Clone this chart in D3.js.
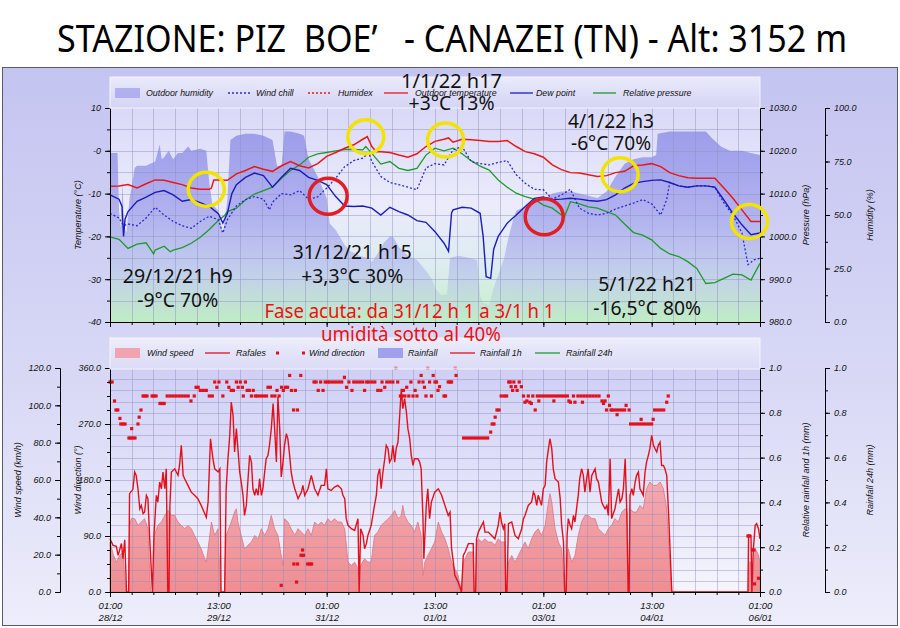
<!DOCTYPE html>
<html><head><meta charset="utf-8">
<script src="https://cdn.jsdelivr.net/npm/d3@7"></script>
<style>body{margin:0;background:#fff}svg{display:block}</style>
</head><body><svg id="c" width="900" height="628"></svg>
<script>
// ---- DATA (hours since 01:00 28/12) ----
const xTickHours = [0,36,72,108,144,180,216];
const xTickTimes = ["01:00","13:00","01:00","13:00","01:00","13:00","01:00"];
const xTickDates = ["28/12","29/12","31/12","01/01","03/01","04/01","06/01"];
const tempTicks = [10,0,-10,-20,-30,-40];
const pressTicks = [1030,1020,1010,1000,990,980];
const humTicks = [100,75,50,25,0];
const windTicks = [120,100,80,60,40,20,0];
const dirTicks = [360,270,180,90,0];
const rainTicks = [1,0.8,0.6,0.4,0.2,0];

const tempData = [[0,-8.3],[3,-8.2],[6,-7.9],[9,-8.7],[12,-7.7],[15,-6.8],[18,-6.9],[21,-7.4],[24,-7.9],[27,-8.7],[30,-9.0],[33,-9.0],[33.7,-8.7],[34.5,-6.8],[36,-6.8],[39,-6.9],[42,-5.4],[45,-4.6],[48,-3.7],[51,-4.3],[54,-4.8],[57,-3.5],[60,-2.5],[63,-3.5],[66,-4.0],[69,-3.0],[72,-1.3],[75,-0.4],[78,0.6],[81,1.4],[84,2.7],[85.5,3.3],[87,1.0],[88.5,-0.2],[90,-0.2],[93,-0.4],[96,-1.0],[99,-1.5],[102,-0.7],[105,1.0],[108,2.2],[111,2.7],[112.5,3.0],[114,2.0],[117,2.7],[120,2.6],[123,2.4],[126,2.2],[129,2.2],[132,2.4],[135,1.0],[138,-0.2],[141,-0.7],[144,-1.5],[147,-3.3],[150,-4.4],[153,-5.1],[156,-5.2],[159,-5.6],[162,-6.0],[165,-5.8],[168,-5.1],[171,-4.8],[174,-3.5],[177,-3.3],[180,-3.0],[183,-3.7],[186,-5.1],[189,-5.8],[192,-6.3],[195,-6.4],[198,-6.4],[201,-6.4],[204,-8.7],[207,-11.1],[210,-13.8],[213,-16.5],[216,-16.5]];
const dewData = [[0,-10.3],[3,-11.3],[4,-13],[4.5,-20],[5,-16],[6,-14.2],[9,-11.8],[12,-10.8],[15,-9.7],[18,-9.3],[21,-10.3],[24,-11.8],[27,-11.4],[30,-12.1],[33,-13.0],[36,-14.7],[37.5,-16.9],[39,-14.6],[40.5,-10],[42,-7.9],[45,-6.2],[48,-5.2],[51,-5.8],[54,-8.5],[57,-6.2],[60,-4.1],[63,-4.6],[66,-6.2],[69,-6.9],[72,-7.9],[75,-10.7],[78,-12.9],[81,-13.0],[84,-12.9],[87,-13.4],[90,-15.0],[93,-13.2],[96,-14.2],[99,-15.0],[102,-16.3],[105,-16.7],[108,-18.9],[111,-21.6],[112.5,-23.5],[113.5,-14.5],[114,-13.8],[117,-13.2],[120,-13.4],[123,-14.6],[124,-20],[125,-29.4],[126.5,-29.8],[127.5,-23],[129,-20.0],[132,-16.9],[135,-15.0],[138,-13.0],[141,-11.1],[144,-10.8],[147,-11.4],[150,-11.3],[153,-11.1],[156,-11.3],[159,-11.6],[162,-11.8],[165,-11.4],[168,-10.3],[171,-8.7],[174,-7.6],[177,-7.2],[180,-6.9],[183,-6.8],[186,-7.4],[189,-8.2],[192,-8.5],[195,-8.2],[198,-8.2],[201,-8.5],[204,-11.5],[207,-14.6],[210,-17.3],[213,-19.6],[216,-19.2]];
const windChillData = [[0,-14.6],[3,-15.7],[4.5,-17.5],[6,-17.1],[9,-17.5],[12,-15.7],[15,-13.2],[18,-15.0],[21,-16.5],[24,-17.5],[27,-18.1],[30,-16.5],[33,-15.3],[36,-16.1],[37.5,-19.2],[39,-16.1],[42,-12.9],[45,-11.4],[48,-10.7],[51,-11.3],[53,-13.8],[54,-12],[57,-10.0],[60,-10.3],[63,-9.3],[66,-11.3],[69,-10.8],[72,-8.7],[75,-6.4],[78,-3.7],[81,-2.3],[84,-1.7],[86,-0.5],[87,-2.5],[90,-6.0],[93,-7.4],[96,-7.9],[99,-8.5],[102,-9.1],[105,-4.0],[108,-3.0],[111,-3.3],[114,0.2],[117,1.0],[120,-2.5],[123,-3.0],[126,-3.3],[129,-2.7],[132,-2.3],[135,-5.6],[138,-7.6],[141,-9.0],[144,-9.1],[147,-11.3],[150,-10.3],[153,-9.0],[156,-13.4],[159,-14.6],[162,-15.0],[165,-14.6],[168,-13.6],[171,-12.9],[174,-12.2],[177,-11.4],[180,-12.4],[183,-15.0],[185,-11.4],[186,-7.4],[189,-8.2],[192,-8.5],[195,-8.2],[198,-8.2],[201,-8.5],[204,-12.2],[207,-15.0],[210,-19.2],[212,-26.6],[214,-25.5],[216,-25.1]];
const pressureData = [[0,999.9],[3,999.3],[6,997.2],[9,998.2],[12,998.5],[14.5,995.9],[15,996.8],[18,997.7],[20,996.4],[21,996.8],[24,997.4],[27,998.4],[30,999.8],[33,1001.6],[36,1003.7],[38,1004.8],[39,1005.8],[42,1006.6],[45,1008.5],[48,1009.9],[51,1010.7],[54,1011.5],[57,1013.6],[60,1015.4],[63,1016.7],[66,1018.5],[69,1019.3],[72,1019.6],[75,1020.0],[78,1020.3],[81,1020.3],[84,1020.2],[85,1021.0],[87,1019.4],[90,1016.9],[93,1017.5],[96,1015.9],[99,1015.4],[102,1015.9],[105,1019.0],[108,1020.6],[111,1020.0],[114,1020.6],[117,1019.3],[120,1017.7],[123,1016.4],[126,1015.5],[129,1013.2],[132,1011.5],[135,1010.1],[138,1009.3],[141,1008.7],[144,1007.3],[147,1006.6],[150,1005.0],[151,1004.6],[153,1008.1],[156,1007.6],[159,1006.9],[162,1006.6],[165,1005.8],[168,1005.0],[171,1002.9],[174,1000.9],[177,1000.3],[180,999.2],[183,997.2],[186,995.9],[189,995.3],[192,994.1],[195,992.5],[198,989.0],[201,989.2],[204,990.2],[207,991.2],[210,991.0],[213,989.8],[216,993.7]];
const humidityData = [[0,79],[2.5,79],[3,52],[3.6,44],[4.2,66],[4.6,44],[5.5,42],[6.5,58],[7.2,63],[8.2,72],[9,73],[12,73],[15,75],[16,80],[16.5,83],[17.2,76],[18,77],[19.5,80],[21,76],[22.5,79],[24,79],[26,82],[27,80],[30,81],[32,80],[33,65],[34,55],[36,52],[37.5,41],[39,57],[40,85],[42,87],[45,88],[48,88],[51,87],[54,85],[55.5,73],[57,73],[58,89],[60,89],[63,88],[64.5,87],[66,76],[69,68],[72,58],[73,46],[75,43],[78,36],[80,33],[83,31],[85.5,30],[87,28],[89,32],[91,37],[93,40],[94,40],[96,35],[99,31],[102,29],[105,24],[107,20],[108,16],[110,12.5],[112,13],[113,30],[116,31],[119,30],[122,29],[123,12],[124,9],[126,8],[127.5,16],[129,22],[131,30],[132.5,40],[134,48],[135,52],[138,54],[141,56],[144,57],[147,60],[150,61],[153,61],[156,60],[159,59],[162,58],[165,61],[168,68],[171,74],[174,76],[177,77],[180,77],[181.5,78],[182,88],[186,89],[190,89],[194,89],[198,89],[200,86],[203,82],[206,80],[210,80],[213,79],[216,78]];

const gustData = [[0,28.5],[1,25],[2.1,24.5],[2.7,19.6],[3.8,26],[4.3,17.8],[4.9,28],[5.5,0],[6.2,0],[6.5,52.7],[7.6,55],[8.2,64.3],[8.7,62.5],[9.3,55.3],[9.9,44.6],[10.4,46.4],[11,42],[11.5,42.8],[12.1,51.8],[12.6,50],[13.2,28.5],[14.1,0],[14.6,30],[15.4,51.8],[15.9,48.2],[16.5,58.9],[17.1,55.3],[17.6,64.3],[18.2,55.3],[18.7,66],[19.2,0],[19.6,0],[19.9,46],[20.4,64.3],[21.5,66],[22.6,62.5],[23.1,67.8],[23.7,78.6],[24.3,62.5],[24.8,60.7],[25.9,57.1],[27,53.5],[28.1,51.8],[29.2,50],[30.3,46.4],[31.5,41.9],[32,40],[32.6,48.2],[33.1,69.6],[33.4,82.1],[34.2,71.4],[34.8,66],[35.9,64.3],[36.5,66],[36.9,0],[38.1,0],[38.6,55.3],[39.2,71.4],[39.8,84],[40.3,101.8],[40.9,94.6],[41.4,75],[42,87.5],[42.5,76.8],[43.1,64.3],[43.6,58.9],[44.2,51.8],[44.7,41],[45.3,46.4],[45.8,58.9],[46.4,73.2],[47,69.6],[47.5,55.3],[48.1,51.8],[48.6,55.3],[49.2,51.8],[49.7,60.7],[50.3,51.8],[50.8,55.3],[51.4,64.3],[51.9,71.4],[52.5,73.2],[53,78.6],[53.6,87.5],[54.2,100.9],[54.7,87.5],[55.3,69.6],[55.8,104.4],[56.4,87.5],[56.9,61.6],[57.5,69.6],[58,78.6],[58.6,84.8],[59.1,82.1],[59.7,73.2],[60.2,64.3],[60.8,58.9],[61.4,55.3],[62.5,50],[63.6,53.5],[64.1,57.1],[64.7,51.8],[65.8,55.3],[66.9,62.5],[68,55.3],[69.1,51.8],[70.2,57.1],[71.3,57.1],[71.9,66],[72.4,55.3],[73.5,54.4],[74.6,56.2],[75.7,57.1],[76.9,55.3],[77.4,51.8],[78,50],[78.5,39.3],[79.1,35.7],[80.2,33.9],[81.3,33],[82.4,39.3],[82.8,0],[83.3,33.9],[84.1,30.3],[84.6,23.2],[85.2,25.9],[85.7,30.3],[86.8,35.7],[87.9,46.4],[88.5,51.8],[89,62.5],[89.6,66],[90.1,55.3],[90.7,64.3],[91.3,71.4],[91.8,78.6],[92.4,76.8],[92.9,69.6],[93.5,71.4],[94,78.6],[94.6,69.6],[95.1,76.8],[95.7,80.3],[96.2,92.8],[96.8,108.9],[97.3,98.2],[97.9,103.6],[98.5,96.4],[99,87.5],[99.6,82.1],[100.1,73.2],[100.7,67.8],[101.2,71.4],[102.3,71.4],[102.9,69.6],[103.4,66],[104,39.3],[104.3,17.8],[105.1,46.4],[105.6,55.3],[106.2,39.3],[106.8,48.2],[107.9,53.5],[109.1,55.3],[110.2,51.8],[111.3,46.4],[112.4,41],[113,42.8],[113.5,23.2],[114.1,16],[114.6,8.9],[115.7,5.3],[116.8,0],[117.4,19.6],[118,21.4],[119.1,25.9],[120.7,25.9],[121,0],[121.5,0],[121.8,28.5],[122.4,32.1],[123.5,35.7],[124.1,37.5],[124.6,32.1],[125.7,32.1],[126.8,30.3],[127.9,28.5],[129,35.7],[129.6,42.8],[130.1,37.5],[130.7,33.9],[131.2,36.6],[131.5,0],[131.9,0],[132.4,36.6],[133.5,37.5],[134.6,30.3],[135.7,28.5],[136.8,33.9],[137.4,39.3],[137.9,41],[139,46.4],[140.1,48.2],[140.7,53.5],[141.2,51.8],[141.8,46.4],[142.3,51.8],[143.4,46.4],[144,55.3],[144.6,57.1],[145.1,69.6],[145.7,76.8],[146.2,82.1],[146.8,76.8],[147.3,66],[147.9,60.7],[149,58.9],[149.6,50],[150.1,35.7],[150.7,26.8],[151.1,0],[151.6,0],[151.9,30.3],[152.3,39.3],[152.9,35.7],[153.4,33.9],[154,41],[154.5,37.5],[155.6,51.8],[156.1,60.7],[156.7,66],[157.3,62.5],[157.8,53.5],[158.4,60.7],[158.9,66],[159.5,53.5],[160.1,62.5],[161.2,66],[161.7,60.7],[162.3,58.9],[163.4,48.2],[163.9,46.4],[164.5,44.6],[165.1,46.4],[165.6,41],[166.2,71.4],[166.7,39.3],[167.8,44.6],[168.4,50],[169,55.3],[169.5,48.2],[170.1,50],[170.6,55.3],[171.2,71.4],[171.7,44.6],[172.2,0],[172.5,0],[172.8,51.8],[173.4,55.3],[173.9,51.8],[174.5,58.9],[175,62.5],[175.6,64.3],[176.1,55.3],[176.7,53.5],[177.2,51.8],[177.8,64.3],[178.3,69.6],[178.9,73.2],[179.4,76.8],[180,83.9],[180.6,78.6],[181.1,76.8],[181.7,75],[182.2,78.6],[182.8,80.3],[183.3,67.8],[183.9,67.8],[184.4,66],[185,62.5],[185.6,42.8],[186.1,23.2],[186.7,0],[212,0],[212.2,30.3],[213,30.3],[213.3,0],[213.8,23.2],[214.4,35.7],[214.9,36.6],[215.5,33.9],[216,28.5]];
const windSpeedData = [[0,26.8],[1,20.5],[2.1,16],[3.2,19.6],[4.3,21.4],[5.3,0],[6.2,0],[6.5,35.7],[7.1,39.3],[8.2,39.3],[9.3,35.7],[10.4,37.5],[11.5,39.3],[12.6,33.9],[13.5,0],[14.5,0],[14.8,30.3],[15.9,35.7],[17.1,37.5],[18.2,41],[19.3,43.7],[20.4,41],[21.5,41],[22.6,37.5],[23.7,35.7],[24.8,33.9],[25.9,35.7],[27,33.9],[28.1,30.3],[29.2,26.8],[30.3,23.2],[31.5,17.8],[32,16],[32.6,23.2],[33.7,37.5],[34.8,30.3],[35.9,33.9],[36.8,0],[38,0],[38.6,30.3],[40.3,37.5],[41.4,42.8],[42,44.6],[42.5,37.5],[43.6,30.3],[44.7,23.2],[45.8,25],[47,26.8],[48.1,30.3],[49.2,28.5],[50.3,33.9],[51.4,30.3],[52.5,33.9],[53.6,41],[54.7,33.9],[55.8,30.3],[56.9,19.6],[57.5,14.3],[58,39.3],[59.1,37.5],[60.2,33.9],[61.4,30.3],[62.5,33.9],[63.6,32.1],[64.7,30.3],[65.8,33.9],[66.9,30.3],[68,37.5],[69.1,35.7],[70.2,37.5],[71.3,35.7],[72.4,39.3],[73.5,37.5],[74.6,39.3],[75.7,37.5],[76.9,37.5],[78,33.9],[79.1,16],[80.2,14.3],[81.3,16],[82.4,12.5],[82.8,0],[83.3,14.3],[84.6,17.8],[85.7,16],[86.8,16],[87.9,30.3],[89,32.1],[90.1,35.7],[91.3,37.5],[92.4,39.3],[93.5,41],[94.6,43.7],[95.7,39.3],[96.8,41],[97.3,46.4],[97.9,41],[99,37.5],[100.1,35.7],[101.2,32.1],[102.3,37.5],[103.4,30.3],[104,8.9],[104.6,16],[105.6,19.6],[106.8,23.2],[107.9,26.8],[109.1,37.5],[110.2,32.1],[111.3,28.5],[112.4,23.2],[113.5,16],[114.6,12.5],[115.7,8.9],[116.8,0],[117.4,16],[118,17.8],[119.1,21.4],[120.7,21.4],[121,0],[121.5,0],[121.8,26.8],[122.4,28.5],[123.5,26.8],[124.6,28.5],[125.7,26.8],[126.8,26.8],[127.9,25],[129,28.5],[130.1,26.8],[131.2,26.8],[131.5,0],[131.9,0],[132.4,16],[133.5,19.6],[134.6,16],[135.7,19.6],[136.8,23.2],[137.9,26.8],[139,23.2],[140.1,28.5],[141.2,32.1],[142.3,33.9],[143.4,30.3],[144.6,35.7],[145.7,48.2],[146.2,52.7],[146.8,48.2],[147.9,33.9],[149,26.8],[150.1,23.2],[151.1,0],[151.6,0],[151.9,19.6],[152.3,23.2],[153.4,16],[154.5,19.6],[155.6,30.3],[156.7,37.5],[157.8,41],[158.9,41],[160.1,39.3],[161.2,39.3],[162.3,33.9],[163.4,32.1],[164.5,30.3],[165.6,33.9],[166.7,35.7],[167.8,39.3],[168.9,37.5],[170.1,42.8],[171.2,44.6],[171.9,42.8],[172.2,0],[172.5,0],[172.8,44.6],[173.9,42.8],[175,42.8],[176.1,46.4],[177.2,44.6],[178.3,55.3],[179.4,58.9],[180.6,57.1],[181.7,57.1],[182.8,58.9],[183.9,55.3],[185,44.6],[185.6,26.8],[186.7,0],[212,0],[212.2,16],[213,16],[213.3,0],[214.4,23.2],[215.5,20],[216,16]];
const windDirData = [[0,337.5],[0.7,337.5],[1.5,307],[2,292.5],[2.6,292.5],[3.3,279],[3.6,270],[4.3,270],[5,270],[6.3,247.5],[6.9,247.5],[7.2,262.5],[7.6,247.5],[8.3,247.5],[9.3,270],[9.7,281],[10.3,292.5],[11,315],[11.6,315],[12.3,315],[14,315],[14.6,315],[15.3,315],[16.6,303],[17.3,303],[18,303],[19,315],[20,315],[21,315],[22,315],[23,315],[24,315],[25,315],[26,315],[26.9,307],[28,315],[28.6,329],[29.3,329],[30,324],[31,324],[32,324],[33,315],[34,315],[34.8,337.5],[35.5,329],[36.2,337.5],[37.5,315],[38.8,337.5],[39.5,329],[40.3,324],[41,324],[42,337.5],[42.6,329],[43.3,337.5],[44,329],[44.3,315],[45,337.5],[45.6,324],[46.3,324],[47,315],[47.6,324],[48.3,315],[49,315],[50,315],[51,315],[52,315],[52.5,329],[53.3,329],[53.8,315],[54.8,315],[55.5,324],[56.2,315],[57,329],[57.6,324],[58.3,329],[59,329],[59.7,348],[60.3,324],[61,292.5],[61.6,324],[62.3,292.5],[63.4,348],[56.9,10.7],[61.1,45],[62,16],[62.3,45],[63.5,59],[64,67.5],[64.3,59],[65.7,45],[66.4,45],[67,45],[67.8,337.5],[68.5,337.5],[69.2,324],[70,337.5],[70.8,324],[71.5,337.5],[72.3,337.5],[73,337.5],[74,337.5],[75,337.5],[76,337.5],[77,337.5],[77.9,345],[78.6,329],[79.4,337.5],[80.4,324],[81,337.5],[82,337.5],[83,337.5],[84,337.5],[84.6,324],[85.3,337.5],[86,337.5],[87,337.5],[88,337.5],[89,324],[90,324],[90.4,337.5],[91.3,329],[92,337.5],[93,337.5],[94,337.5],[95,360],[95.6,337.5],[96.5,315],[97.1,315],[97.5,324],[98,315],[98.6,329],[99.3,315],[100,337.5],[100.7,315],[101.4,324],[102,315],[102.7,337.5],[103.4,348],[104,337.5],[104.5,329],[105,315],[105.6,360],[106.2,337.5],[106.8,315],[107.4,348],[108,337.5],[108.5,337.5],[109,324],[109.5,330],[111,315],[111.5,315],[112.4,337.5],[113,337.5],[113.5,337.5],[114.7,360],[115,348],[117.5,247.5],[118.5,247.5],[119.5,247.5],[120.5,247.5],[121.5,247.5],[122.5,247.5],[123.5,247.5],[124.5,247.5],[125.5,247.5],[126.5,257],[127,270],[127.6,270],[128,281],[128.6,292.5],[129.3,292.5],[130,315],[131,315],[131.8,315],[132.5,337.5],[133,337.5],[133.3,330],[133.8,324],[134.2,337.5],[134.8,330],[135.3,324],[136,337.5],[136.7,330],[137.4,315],[137.9,305],[138.5,307],[139,315],[139.5,305],[140,303],[140.5,315],[141.3,292.5],[142,315],[142.5,307],[143,315],[144,315],[145,315],[146,315],[147,315],[147.5,307],[148,315],[149,315],[150,315],[151,315],[152,315],[152.5,307],[153,305],[154,315],[154.5,305],[155.5,315],[156.5,315],[157,305],[157.5,315],[158.5,315],[159.5,315],[160.5,315],[161.5,315],[162.5,315],[163.5,307],[164,303],[164.5,307],[165,292.5],[165.6,315],[166,300],[166.5,292.5],[167,292.5],[168,292.5],[168.5,285],[169,292.5],[170,292.5],[171,292.5],[171.5,300],[172.5,292.5],[173,270],[174,270],[175,270],[176,270],[176.5,277.5],[177,270],[178,270],[179,270],[180,270],[180.5,277.5],[181,292.5],[182,292.5],[183,292.5],[184,292.5],[185,305],[185.5,315],[212,90],[212.5,90],[213.5,67.5],[214,67.5],[214.2,13],[215.5,22]];

const circlesYellow = [[32,-9],[85,3.3],[111.5,2.5],[169.5,-5.6],[212.5,-16.5]];
const circlesRed = [[72.5,-10.6],[144.3,-15.4]];
const notes = [
 {lines:["1/1/22 h17","+3°C 13%"], h:113.5, t:[14.7,9.6], w:[101,86]},
 {lines:["4/1/22 h3","-6°C 70%"], h:166.5, t:[5.4,0.2], w:[86,80]},
 {lines:["29/12/21 h9","-9°C 70%"], h:22.5, t:[-31.0,-36.6], w:[110,81]},
 {lines:["31/12/21 h15","+3,3°C 30%"], h:80.5, t:[-25.2,-30.8], w:[119,102]},
 {lines:["5/1/22 h21","-16,5°C 80%"], h:178.5, t:[-32.8,-38.4], w:[98,108]}
];

// ---- SCALES ----
const svg = d3.select('#c');
const F = "'Liberation Sans', Arial, sans-serif";
const x = d3.scaleLinear().domain([0,216]).range([110,760]);
const yT = d3.scaleLinear().domain([-40,10]).range([322,108]);
const yP = d3.scaleLinear().domain([980,1030]).range([322,108]);
const yH = d3.scaleLinear().domain([0,100]).range([322,108]);
const yW = d3.scaleLinear().domain([0,120]).range([592,368]);
const yD = d3.scaleLinear().domain([0,360]).range([592,368]);
const yR = d3.scaleLinear().domain([0,1]).range([592,368]);

const defs = svg.append('defs');
function grad(id, stops, y1, y2){
  const g = defs.append('linearGradient').attr('id',id).attr('x1',0).attr('x2',0)
    .attr('gradientUnits','userSpaceOnUse').attr('y1',y1).attr('y2',y2);
  stops.forEach(s=>g.append('stop').attr('offset',s[0]).attr('stop-color',s[1]).attr('stop-opacity',s[2]===undefined?1:s[2]));
}
grad('gPanel',[[0,'#c4c4f1'],[0.55,'#d8d8f6'],[1,'#ededfb']],67,626);
grad('gTop',[[0,'#d9d9f8'],[0.45,'#ebebfc'],[0.75,'#dcecf0'],[1,'#c2f2c2']],108,322);
grad('gHum',[[0,'#8888e6',0.8],[0.5,'#8888e6',0.58],[1,'#8888e6',0.05]],108,322);
grad('gBot',[[0,'#cfcff5'],[1,'#f5f5fd']],368,592);
grad('gWind',[[0,'#f4b4bc'],[1,'#ef8e92']],430,592);
grad('gLeg',[[0,'#f2f2fd',0.85],[1,'#dedef8',0.6]],0,1);
defs.select('#gLeg').attr('gradientUnits','objectBoundingBox');

// ---- TITLE ----
svg.append('text').attr('x',452).attr('y',52).attr('text-anchor','middle')
  .attr('font-family',"'Noto Sans','Open Sans',sans-serif").attr('font-size',38).attr('fill','#000')
  .attr('textLength',790).attr('lengthAdjust','spacingAndGlyphs').style('white-space','pre')
  .text('STAZIONE: PIZ  BOE’   - CANAZEI (TN) - Alt: 3152 m');

// ---- PANEL ----
svg.append('rect').attr('x',2.5).attr('y',67.5).attr('width',895).attr('height',558)
  .attr('fill','url(#gPanel)').attr('stroke','#5a5a6a').attr('stroke-width',1);

// ---- TOP PLOT ----
svg.append('rect').attr('x',110).attr('y',108).attr('width',650).attr('height',214).attr('fill','url(#gTop)');
svg.append('path').datum(humidityData).attr('fill','url(#gHum)')
  .attr('d', d3.area().x(d=>x(d[0])).y0(322).y1(d=>yH(d[1])));
function grid(y0,y1,rows){
  const g = svg.append('g').attr('stroke','#8f8fbf').attr('stroke-opacity',0.45).attr('stroke-width',1);
  d3.range(1,30).forEach(i=>{const xx=Math.round(x(i*7.2))+0.5;g.append('line').attr('x1',xx).attr('x2',xx).attr('y1',y0).attr('y2',y1);});
  d3.range(1,rows).forEach(i=>{const yy=Math.round(y0+(y1-y0)*i/rows)+0.5;g.append('line').attr('x1',110).attr('x2',760).attr('y1',yy).attr('y2',yy);});
}
grid(108,322,10);
const line = (ys)=>d3.line().x(d=>x(d[0])).y(d=>ys(d[1]));
svg.append('path').datum(pressureData).attr('fill','none').attr('stroke','#1f9a2a').attr('stroke-width',1.3).attr('d',line(yP));
svg.append('path').datum(windChillData).attr('fill','none').attr('stroke','#2a2ad0').attr('stroke-width',1.3).attr('stroke-dasharray','2,2').attr('d',line(yT));
svg.append('path').datum(dewData).attr('fill','none').attr('stroke','#1c1cb8').attr('stroke-width',1.4).attr('d',line(yT));
svg.append('path').datum(tempData).attr('fill','none').attr('stroke','#e81818').attr('stroke-width',1.5).attr('d',line(yT));

// ---- BOTTOM PLOT ----
svg.append('rect').attr('x',110).attr('y',368).attr('width',650).attr('height',224).attr('fill','url(#gBot)');
svg.append('path').datum(windSpeedData).attr('fill','url(#gWind)').attr('stroke','#e07482').attr('stroke-width',0.8)
  .attr('d', d3.area().x(d=>x(d[0])).y0(592).y1(d=>yW(d[1])));
grid(368,592,20);
svg.append('path').datum(gustData).attr('fill','none').attr('stroke','#e3101c').attr('stroke-width',1.4).attr('d',line(yW));
svg.append('g').selectAll('rect').data(windDirData).join('rect')
  .attr('x',d=>x(d[0])-1.6).attr('y',d=>yD(d[1])-1.6).attr('width',3.2).attr('height',3.2).attr('fill','#e3101c');

// ---- AXES ----
function st(g, size){
  g.selectAll('text').attr('font-family',F).attr('font-style','italic').attr('font-size',size||9).attr('fill','#111');
  g.selectAll('line,path').attr('stroke','#000');
  return g;
}
function ax(axis, tx, ty, vals, fmt, minor, size){
  const g = svg.append('g').attr('transform',`translate(${tx},${ty})`);
  g.call(axis.tickValues(minor).tickSize(3).tickSizeOuter(0).tickFormat(''));
  const g2 = svg.append('g').attr('transform',`translate(${tx},${ty})`);
  g2.call(axis.tickValues(vals).tickSize(5).tickSizeOuter(0).tickFormat(fmt).tickPadding(4));
  st(g); st(g2, size);
  return g2;
}
const f1 = d3.format('.1f');
ax(d3.axisLeft(yT),110,0,tempTicks,d=>d===0?'-0':d,d3.range(-40,11,5));
ax(d3.axisRight(yP),760,0,pressTicks,f1,d3.range(980,1031,5));
ax(d3.axisRight(yH),825,0,humTicks,f1,d3.range(0,101,12.5));
ax(d3.axisBottom(x),0,322,xTickHours,'',d3.range(0,216.1,7.2));
ax(d3.axisLeft(yW),60,0,windTicks,f1,d3.range(0,121,10));
ax(d3.axisLeft(yD),110,0,dirTicks,f1,d3.range(0,361,22.5));
ax(d3.axisRight(yR),760,0,rainTicks,f1,d3.range(0,1.01,0.1));
ax(d3.axisRight(yR),825,0,rainTicks,f1,d3.range(0,1.01,0.1));
const gx = ax(d3.axisBottom(x),0,592,xTickHours,'',d3.range(0,216.1,7.2));
gx.selectAll('.tick').each(function(d,i){
  const t = d3.select(this).append('text').attr('font-family',F).attr('font-style','italic').attr('font-size',9.5).attr('fill','#111').attr('text-anchor','middle');
  t.append('tspan').attr('x',0).attr('y',17).text(xTickTimes[i]);
  t.append('tspan').attr('x',0).attr('y',29).text(xTickDates[i]);
});

function vlabel(txt, xx, yy){
  svg.append('text').attr('transform',`translate(${xx},${yy}) rotate(-90)`).attr('text-anchor','middle')
    .attr('font-family',F).attr('font-style','italic').attr('font-size',9).attr('fill','#111').text(txt);
}
vlabel('Temperature (°C)',81,215);
vlabel('Pressure (hPa)',809,215);
vlabel('Humidity (%)',873,215);
vlabel('Wind speed (km/h)',21,480);
vlabel('Wind direction (°)',81,480);
vlabel('Relative rainfall and 1h (mm)',809,480);
vlabel('Rainfall 24h (mm)',873,480);

// ---- LEGENDS ----
function legendBox(y){
  svg.append('rect').attr('x',110).attr('y',y).attr('width',650).attr('height',31).attr('fill','url(#gLeg)')
   .attr('stroke','#f4f4fe').attr('stroke-width',1);
}
legendBox(77); legendBox(338);
function ltext(t,xx,yy){svg.append('text').attr('x',xx).attr('y',yy).attr('font-family',F).attr('font-style','italic').attr('font-size',8.8).attr('fill','#111').text(t);}
function lline(x1,x2,yy,c,dash){svg.append('line').attr('x1',x1).attr('x2',x2).attr('y1',yy).attr('y2',yy).attr('stroke',c).attr('stroke-width',1.3).attr('stroke-dasharray',dash||null);}
svg.append('rect').attr('x',115).attr('y',88).attr('width',25).attr('height',10).attr('fill','#a8a8ec').attr('opacity',0.85);
ltext('Outdoor humidity',146,96);
lline(228,251,93,'#2a2ad0','2,2'); ltext('Wind chill',256,96);
lline(308,331,93,'#e81818','2,2'); ltext('Humidex',338,96);
lline(384,408,93,'#e81818'); ltext('Outdoor temperature',415,96);
lline(510,533,93,'#1c1cb8'); ltext('Dew point',536,96);
lline(593,616,93,'#1f9a2a'); ltext('Relative pressure',623,96);

svg.append('rect').attr('x',115).attr('y',348).attr('width',25).attr('height',10).attr('fill','#f0a4b0');
ltext('Wind speed',147,356);
lline(205,230,353,'#e3101c'); ltext('Rafales',236,356);
svg.append('rect').attr('x',276).attr('y',351.5).attr('width',3).attr('height',3).attr('fill','#e3101c');
svg.append('rect').attr('x',302).attr('y',351.5).attr('width',3).attr('height',3).attr('fill','#e3101c');
ltext('Wind direction',309,356);
svg.append('rect').attr('x',378).attr('y',348).attr('width',25).attr('height',10).attr('fill','#a0a0ec');
ltext('Rainfall',408,356);
lline(450,475,353,'#e3101c'); ltext('Rainfall 1h',480,356);
lline(535,560,353,'#1f9a2a'); ltext('Rainfall 24h',566,356);

// ---- ANNOTATIONS ----
circlesYellow.forEach(c=>svg.append('ellipse').attr('cx',x(c[0])).attr('cy',yT(c[1])).attr('rx',18).attr('ry',17)
  .attr('fill','none').attr('stroke','#f2e400').attr('stroke-width',3.5));
circlesRed.forEach(c=>svg.append('ellipse').attr('cx',x(c[0])).attr('cy',yT(c[1])).attr('rx',19).attr('ry',18)
  .attr('fill','none').attr('stroke','#e01e24').attr('stroke-width',3.5));
const AF = "'Noto Sans','Open Sans',sans-serif";
notes.forEach(n=>{
  n.lines.forEach((l,i)=>{
    svg.append('text').attr('x',x(n.h)).attr('y',yT(n.t[i])).attr('text-anchor','middle')
      .attr('font-family',AF).attr('font-size',20).attr('fill','#111')
      .attr('textLength',n.w[i]).attr('lengthAdjust','spacingAndGlyphs').text(l);
  });
});
svg.append('text').attr('x',x(99.5)).attr('y',318).attr('text-anchor','middle').attr('font-family',AF).attr('font-size',20)
  .attr('fill','#ee1010').attr('textLength',290).attr('lengthAdjust','spacingAndGlyphs').text('Fase acuta: da 31/12 h 1 a 3/1 h 1');
svg.append('text').attr('x',x(100)).attr('y',341).attr('text-anchor','middle').attr('font-family',AF).attr('font-size',20)
  .attr('fill','#ee1010').attr('textLength',180).attr('lengthAdjust','spacingAndGlyphs').text('umidità sotto al 40%');
</script></body></html>
